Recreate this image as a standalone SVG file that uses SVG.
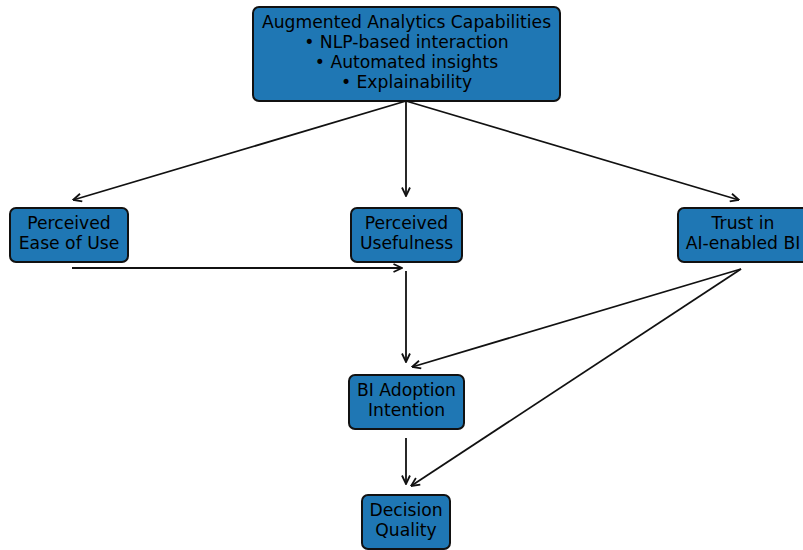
<svg xmlns="http://www.w3.org/2000/svg" width="803" height="550" viewBox="0 0 803 550">
<defs>
<style>
.box{fill:#1f77b4;stroke:#111;stroke-width:2}
.t{font-family:"DejaVu Sans",sans-serif;font-size:17.2px;fill:#000;text-anchor:middle}
.c{stroke:#111;stroke-width:1.8;fill:none;marker-end:url(#ah)}
</style>
<marker id="ah" viewBox="0 0 10 10" refX="9.5" refY="5" markerWidth="10" markerHeight="10" markerUnits="userSpaceOnUse" orient="auto">
<path d="M1,1 L9.5,5 L1,9" fill="none" stroke="#111" stroke-width="1.8"/>
</marker>
</defs>
<rect width="803" height="550" fill="#fff"/>
<g id="connectors">
<line class="c" x1="406" y1="101" x2="406" y2="196"/>
<line class="c" x1="406" y1="101" x2="73" y2="200"/>
<line class="c" x1="406" y1="101" x2="739" y2="200"/>
<line class="c" x1="72" y1="268" x2="402" y2="268"/>
<line class="c" x1="406" y1="271" x2="406" y2="362"/>
<line class="c" x1="741" y1="269" x2="412" y2="367"/>
<line class="c" x1="741" y1="269" x2="411" y2="486"/>
<line class="c" x1="406" y1="438" x2="406" y2="484"/>
</g>
<g id="augmented">
<rect class="box" x="253" y="7" width="307" height="94" rx="6"/>
<text class="t" x="406.5" y="28">Augmented Analytics Capabilities</text>
<text class="t" x="406.5" y="48">• NLP-based interaction</text>
<text class="t" x="406.5" y="68">• Automated insights</text>
<text class="t" x="406.5" y="88">• Explainability</text>
</g>
<g id="peou">
<rect class="box" x="10" y="208" width="118" height="54" rx="6"/>
<text class="t" x="69" y="229">Perceived</text>
<text class="t" x="69" y="249">Ease of Use</text>
</g>
<g id="pu">
<rect class="box" x="351" y="208" width="111" height="54" rx="6"/>
<text class="t" x="406.5" y="229">Perceived</text>
<text class="t" x="406.5" y="249">Usefulness</text>
</g>
<g id="trust">
<rect class="box" x="678" y="208" width="135" height="54" rx="6"/>
<text class="t" x="743" y="229">Trust in</text>
<text class="t" x="743" y="249">AI-enabled BI</text>
</g>
<g id="adoption">
<rect class="box" x="349" y="375" width="115" height="54" rx="6"/>
<text class="t" x="406.5" y="396">BI Adoption</text>
<text class="t" x="406.5" y="416">Intention</text>
</g>
<g id="decision">
<rect class="box" x="362" y="495" width="88" height="54" rx="6"/>
<text class="t" x="406" y="516">Decision</text>
<text class="t" x="406" y="536">Quality</text>
</g>
</svg>
